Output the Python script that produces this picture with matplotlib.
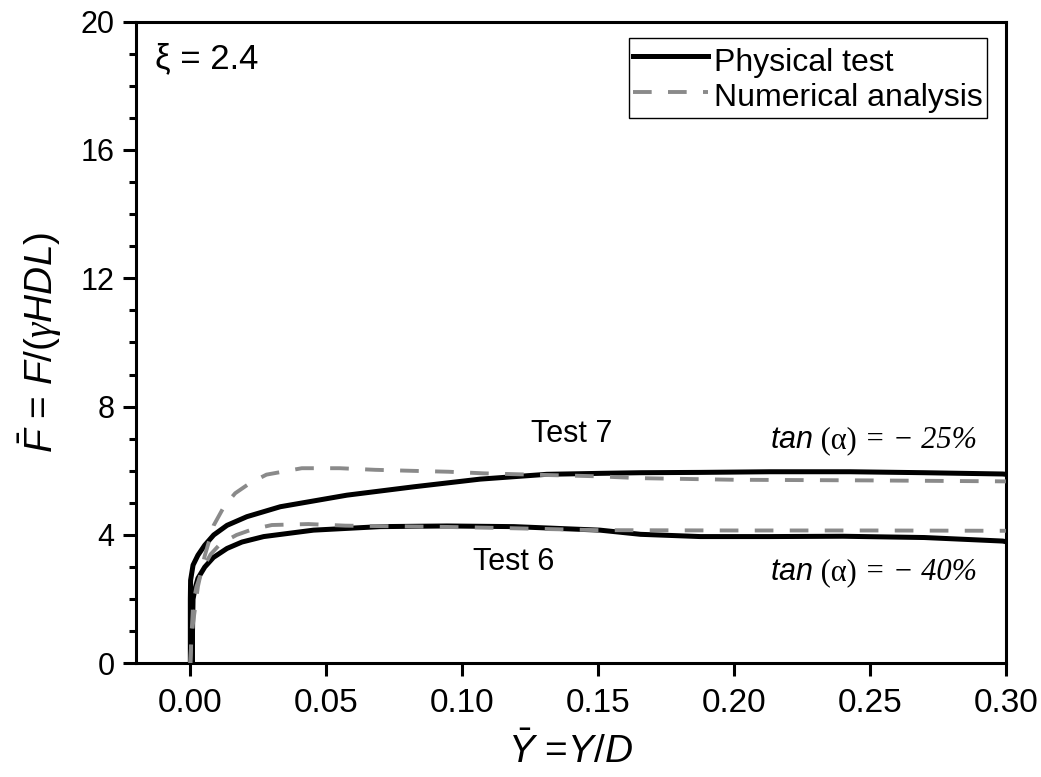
import matplotlib
matplotlib.use("Agg")
import matplotlib.pyplot as plt
from matplotlib.ticker import MultipleLocator, FormatStrFormatter

plt.rcParams['font.family'] = ['Liberation Sans', 'DejaVu Sans']
plt.rcParams['mathtext.fontset'] = 'custom'
plt.rcParams['mathtext.rm'] = 'Liberation Sans'
plt.rcParams['mathtext.it'] = 'Liberation Sans:italic'
plt.rcParams['mathtext.sf'] = 'Liberation Serif:italic'

# Test 7 (tan(alpha) = -25%), physical test
test7_x = [0.0, 0.0, 0.0, 0.0001, 0.001, 0.0028, 0.0053, 0.0086, 0.0135, 0.0208,
           0.0331, 0.0576, 0.0821, 0.1066, 0.1311, 0.1507, 0.1656, 0.1876, 0.2133, 0.2427,
           0.27, 0.2988, 0.30]
test7_y = [0.0, 1.0, 2.0, 2.59, 3.06, 3.37, 3.68, 4.0, 4.3, 4.57,
           4.88, 5.24, 5.5, 5.74, 5.89, 5.92, 5.94, 5.95, 5.97, 5.97,
           5.94, 5.9, 5.89]
# Test 7, numerical analysis
num7_x = [0.0, 0.0003, 0.001, 0.0028, 0.0053, 0.0086, 0.0125, 0.0165, 0.022, 0.028,
          0.041, 0.055, 0.068, 0.081, 0.095, 0.108, 0.121, 0.135, 0.149, 0.1656,
          0.20, 0.25, 0.30]
num7_y = [0.0, 0.6, 1.25, 2.4, 3.35, 4.3, 4.9, 5.3, 5.62, 5.88,
          6.08, 6.08, 6.03, 6.0, 5.97, 5.92, 5.89, 5.86, 5.83, 5.77,
          5.72, 5.7, 5.67]
# Test 6 (tan(alpha) = -40%), physical test
test6_x = [0.0008, 0.0008, 0.001, 0.0016, 0.0028, 0.0053, 0.0085, 0.0135, 0.019, 0.027,
           0.0453, 0.0699, 0.0944, 0.119, 0.1507, 0.1656, 0.1876, 0.2133, 0.24, 0.27,
           0.2988, 0.30]
test6_y = [0.0, 1.0, 2.0, 2.28, 2.65, 3.0, 3.3, 3.58, 3.78, 3.95,
           4.15, 4.26, 4.28, 4.26, 4.15, 4.02, 3.95, 3.95, 3.96, 3.92,
           3.81, 3.79]
# Test 6, numerical analysis
num6_x = [0.0, 0.0005, 0.001, 0.0022, 0.0045, 0.0075, 0.011, 0.017, 0.023, 0.030,
          0.0434, 0.057, 0.0944, 0.113, 0.139, 0.15, 0.20, 0.25, 0.30]
num6_y = [0.0, 1.0, 1.8, 2.37, 2.95, 3.4, 3.72, 4.0, 4.18, 4.31,
          4.34, 4.29, 4.25, 4.22, 4.17, 4.15, 4.14, 4.14, 4.13]

fig = plt.figure(figsize=(10.41, 7.77), dpi=100)
ax = fig.add_axes([0.1306, 0.1463, 0.8357, 0.826])

dash = (0, (4.8, 4.2))
ax.plot(test7_x, test7_y, color='black', lw=3.6, label='Physical test', zorder=3)
ax.plot(test6_x, test6_y, color='black', lw=3.6, zorder=3)
ax.plot(num7_x, num7_y, color='#8a8a8a', lw=2.8, ls=dash, label='Numerical analysis', zorder=4)
ax.plot(num6_x, num6_y, color='#8a8a8a', lw=2.8, ls=dash, zorder=4)

ax.set_xlim(-0.02, 0.30)
ax.set_ylim(0, 20)
ax.xaxis.set_major_locator(MultipleLocator(0.05))
ax.xaxis.set_major_formatter(FormatStrFormatter('%.2f'))
ax.yaxis.set_major_locator(MultipleLocator(4))
ax.yaxis.set_minor_locator(MultipleLocator(1))

ax.tick_params(axis='both', which='major', direction='out', length=9.5, width=2.2,
               top=False, right=False)
ax.tick_params(axis='x', labelsize=24, pad=8)
ax.tick_params(axis='y', labelsize=22, pad=6)
ax.tick_params(axis='y', which='minor', direction='out', length=5, width=2.2)
for s in ax.spines.values():
    s.set_linewidth(2.2)

ax.set_xlabel(r'$\bar{Y}$ =$Y/D$', fontsize=28, labelpad=10)
ax.set_ylabel(r'$\bar{F}$ = $F/(\mathsf{\gamma}HDL)$', fontsize=28, labelpad=12)

ax.text(0.022, 0.9275, 'ξ = 2.4', transform=ax.transAxes, fontsize=25,
        va='baseline', ha='left')
ax.text(0.1401, 7.15, 'Test 7', fontsize=22, ha='center', va='center')
ax.text(0.1188, 3.16, 'Test 6', fontsize=22, ha='center', va='center')

# "tan" in sans italic, the rest in a serif face
for yy, pct in [(6.96, '25%'), (2.84, '40%')]:
    t = ax.text(0.2132, yy, r'$tan$', fontsize=22, ha='left', va='center')
    a = ax.annotate(' (α)', xy=(1, 0), xycoords=t, fontsize=22,
                    ha='left', va='bottom', family=['Liberation Serif'])
    ax.annotate(' = − ' + pct, xy=(1, 0), xycoords=a, fontsize=22,
                ha='left', va='bottom', family=['Liberation Serif'], style='italic')

leg = ax.legend(loc='upper right', bbox_to_anchor=(0.978, 0.974), fontsize=23,
                frameon=True, fancybox=False, edgecolor='black', framealpha=1,
                handlelength=2.35, handleheight=1.35, handletextpad=0.2,
                borderpad=0.12, labelspacing=0.0, borderaxespad=0)
leg.get_frame().set_linewidth(1)

fig.savefig('out.png', dpi=100)
